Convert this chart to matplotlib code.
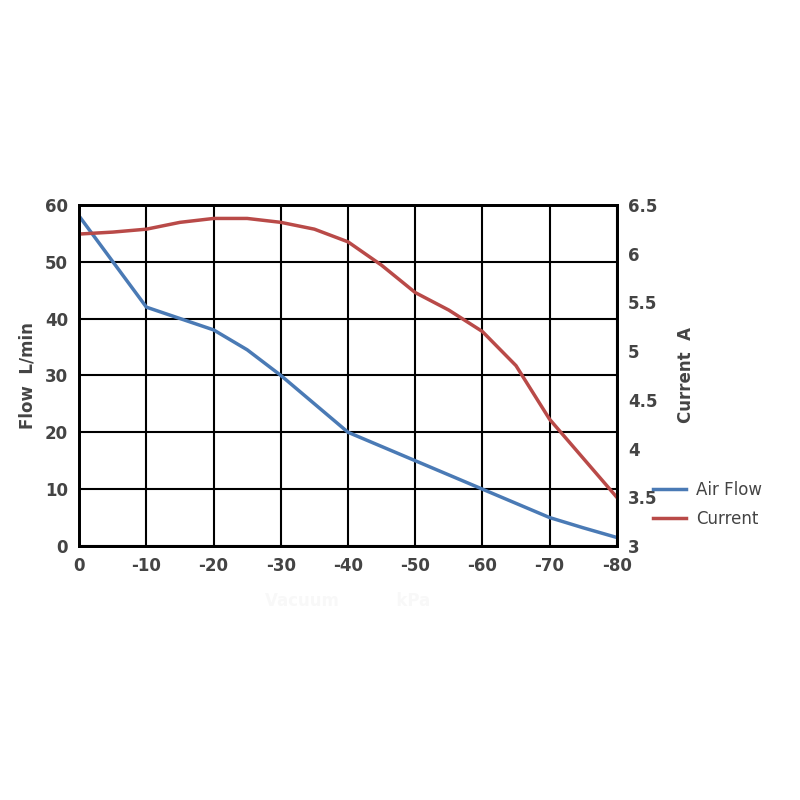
import matplotlib.pyplot as plt

vacuum = [0, -5, -10, -15, -20, -25, -30, -35, -40, -45, -50, -55, -60, -65, -70, -75, -80]
air_flow = [58, 50, 42, 40, 38, 34.5, 30, 25, 20, 17.5, 15, 12.5, 10, 7.5, 5, 3.2, 1.5]
current = [6.2, 6.22, 6.25, 6.32, 6.36, 6.36, 6.32, 6.25, 6.12, 5.88, 5.6, 5.42, 5.2, 4.85, 4.3, 3.9, 3.5]

fig = plt.figure(figsize=(8, 8), dpi=100)
ax = fig.add_axes([0.099, 0.3175, 0.672, 0.4265])
ax2 = ax.twinx()

l1, = ax.plot(vacuum, air_flow, color="#4a7ab5", lw=2.5, label="Air Flow")
l2, = ax2.plot(vacuum, current, color="#b94a48", lw=2.5, label="Current")

ax.set_xlim(0, -80)
ax.set_ylim(0, 60)
ax2.set_ylim(3, 6.5)
ax.set_xticks(range(0, -81, -10))
ax.set_xticklabels(["0"] + [str(v) for v in range(-10, -81, -10)])
ax.set_yticks(range(0, 61, 10))
ax2.set_yticks([3, 3.5, 4, 4.5, 5, 5.5, 6, 6.5])
ax2.set_yticklabels(["3", "3.5", "4", "4.5", "5", "5.5", "6", "6.5"])

ax.grid(True, color="black", lw=1.5)
for a in (ax, ax2):
    for s in a.spines.values():
        s.set_linewidth(2)
    a.tick_params(length=0, labelsize=12, colors="#444444", pad=8)
for t in ax.get_xticklabels() + ax.get_yticklabels() + ax2.get_yticklabels():
    t.set_fontweight("bold")

ax.set_ylabel("Flow  L/min", fontsize=12, fontweight="bold", color="#444444", labelpad=6)
ax2.set_ylabel("Current  A", fontsize=12, fontweight="bold", color="#444444", labelpad=14)
ax.set_xlabel("Vacuum          kPa", fontsize=12, fontweight="bold", color="#f8f8f8", labelpad=12)

fig.legend(handles=[l1, l2], loc="upper left", bbox_to_anchor=(0.797, 0.418),
           frameon=False, fontsize=12, handlelength=2, labelspacing=0.7,
           handletextpad=0.6, labelcolor="#444444")

fig.savefig("out.png", dpi=100)
